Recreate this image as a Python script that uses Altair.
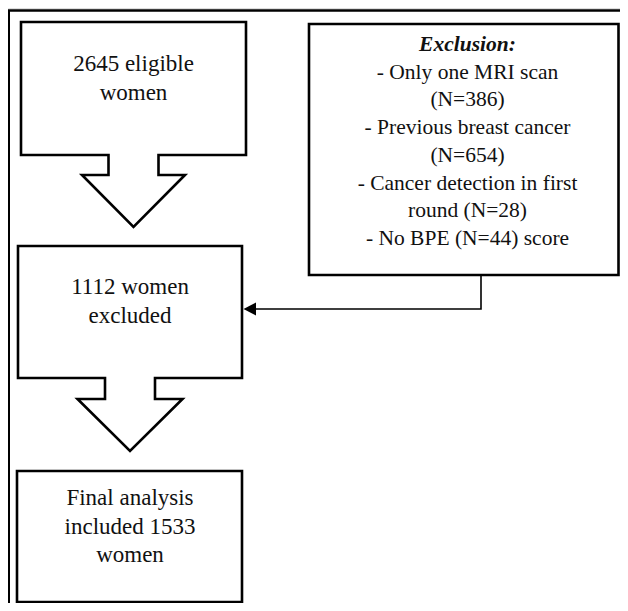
import altair as alt
import pandas as pd

# ---- content of the flow chart ----
eligible_lines = ["2645 eligible", "women"]
excluded_lines = ["1112 women", "excluded"]
final_lines = ["Final analysis", "included 1533", "women"]
exclusion_title = ["Exclusion:"]
exclusion_lines = ["- Only one MRI scan", "(N=386)", "- Previous breast cancer",
                   "(N=654)", "- Cancer detection in first", "round (N=28)",
                   "- No BPE (N=44) score"]

# ---- layout (page pixel coordinates) ----
W, H = 612, 595
FONT = "Times New Roman, Liberation Serif, serif"


def arrow_box(name, left, top, right, bottom, stem_half, stem_bottom, wing_half, tip):
    cx = (left + right) / 2
    pts = [(left, top), (right, top), (right, bottom), (cx + stem_half, bottom),
           (cx + stem_half, stem_bottom), (cx + wing_half, stem_bottom), (cx, tip),
           (cx - wing_half, stem_bottom), (cx - stem_half, stem_bottom),
           (cx - stem_half, bottom), (left, bottom), (left, top)]
    return [{"shape": name, "i": k, "x": p[0], "y": p[1]} for k, p in enumerate(pts)]


def rect_box(name, left, top, right, bottom):
    pts = [(left, top), (right, top), (right, bottom), (left, bottom), (left, top)]
    return [{"shape": name, "i": k, "x": p[0], "y": p[1]} for k, p in enumerate(pts)]


shapes = (arrow_box("eligible", 21, 22, 246, 155, 25, 175, 51.5, 227)
          + arrow_box("excluded", 18, 246, 242, 378, 25, 399, 52.5, 451)
          + rect_box("final", 17, 471, 242, 602)
          + rect_box("exclusion", 309, 24, 618.5, 275))
shapes_df = pd.DataFrame(shapes)

frame_df = pd.DataFrame({"shape": ["frame"] * 3, "i": [0, 1, 2],
                         "x": [8.8, 8.8, 700], "y": [700, 10.5, 10.5]})

connector_df = pd.DataFrame({"shape": ["conn"] * 3, "i": [0, 1, 2],
                             "x": [481, 481, 255], "y": [275, 309, 309]})

arrowhead_df = pd.DataFrame({"x": [243.5, 256], "y": [309, 302.5], "y2": [309, 315.5]})


def text_rows(lines, cx, first_baseline, step):
    return pd.DataFrame({"text": lines, "x": [cx] * len(lines),
                         "y": [first_baseline + k * step for k in range(len(lines))]})


left_text = pd.concat([
    text_rows(eligible_lines, 133.5, 71, 29),
    text_rows(excluded_lines, 130, 294, 29),
    text_rows(final_lines, 130, 505, 28.5),
])
excl_title_df = text_rows(exclusion_title, 467.5, 51, 27.7)
excl_text_df = text_rows(exclusion_lines, 467.5, 51 + 27.7, 27.7)

xs = alt.Scale(domain=[8, 8 + W], range=[0, W], nice=False, zero=False)
ys = alt.Scale(domain=[8, 8 + H], range=[0, H], nice=False, zero=False)
X = alt.X("x:Q", scale=xs, axis=None)
Y = alt.Y("y:Q", scale=ys, axis=None)

outlines = alt.Chart(shapes_df).mark_line(
    color="black", strokeWidth=2.6, strokeJoin="miter", strokeCap="square"
).encode(x=X, y=Y, detail="shape:N", order="i:Q")

frame = alt.Chart(frame_df).mark_line(
    color="black", strokeWidth=2.4, strokeJoin="miter", clip=True
).encode(x=X, y=Y, order="i:Q")

connector = alt.Chart(connector_df).mark_line(
    color="black", strokeWidth=1.6, strokeJoin="miter"
).encode(x=X, y=Y, order="i:Q")

arrowhead = alt.Chart(arrowhead_df).mark_area(
    color="black", orient="vertical"
).encode(x=X, y=Y, y2="y2:Q")

left_labels = alt.Chart(left_text).mark_text(
    font=FONT, fontSize=23, align="center", baseline="alphabetic", color="#111111"
).encode(x=X, y=Y, text="text:N")

excl_title = alt.Chart(excl_title_df).mark_text(
    font=FONT, fontSize=21.5, fontWeight="bold", fontStyle="italic",
    align="center", baseline="alphabetic", color="#111111"
).encode(x=X, y=Y, text="text:N")

excl_labels = alt.Chart(excl_text_df).mark_text(
    font=FONT, fontSize=21.5, align="center", baseline="alphabetic", color="#111111"
).encode(x=X, y=Y, text="text:N")

chart = alt.layer(
    frame, outlines, connector, arrowhead, left_labels, excl_title, excl_labels
).properties(
    width=W, height=H, padding=0, autosize=alt.AutoSizeParams(type="none")
).configure_view(stroke=None).configure(background="white")

chart.save("out.html", embed_options={"renderer": "svg", "actions": False})
